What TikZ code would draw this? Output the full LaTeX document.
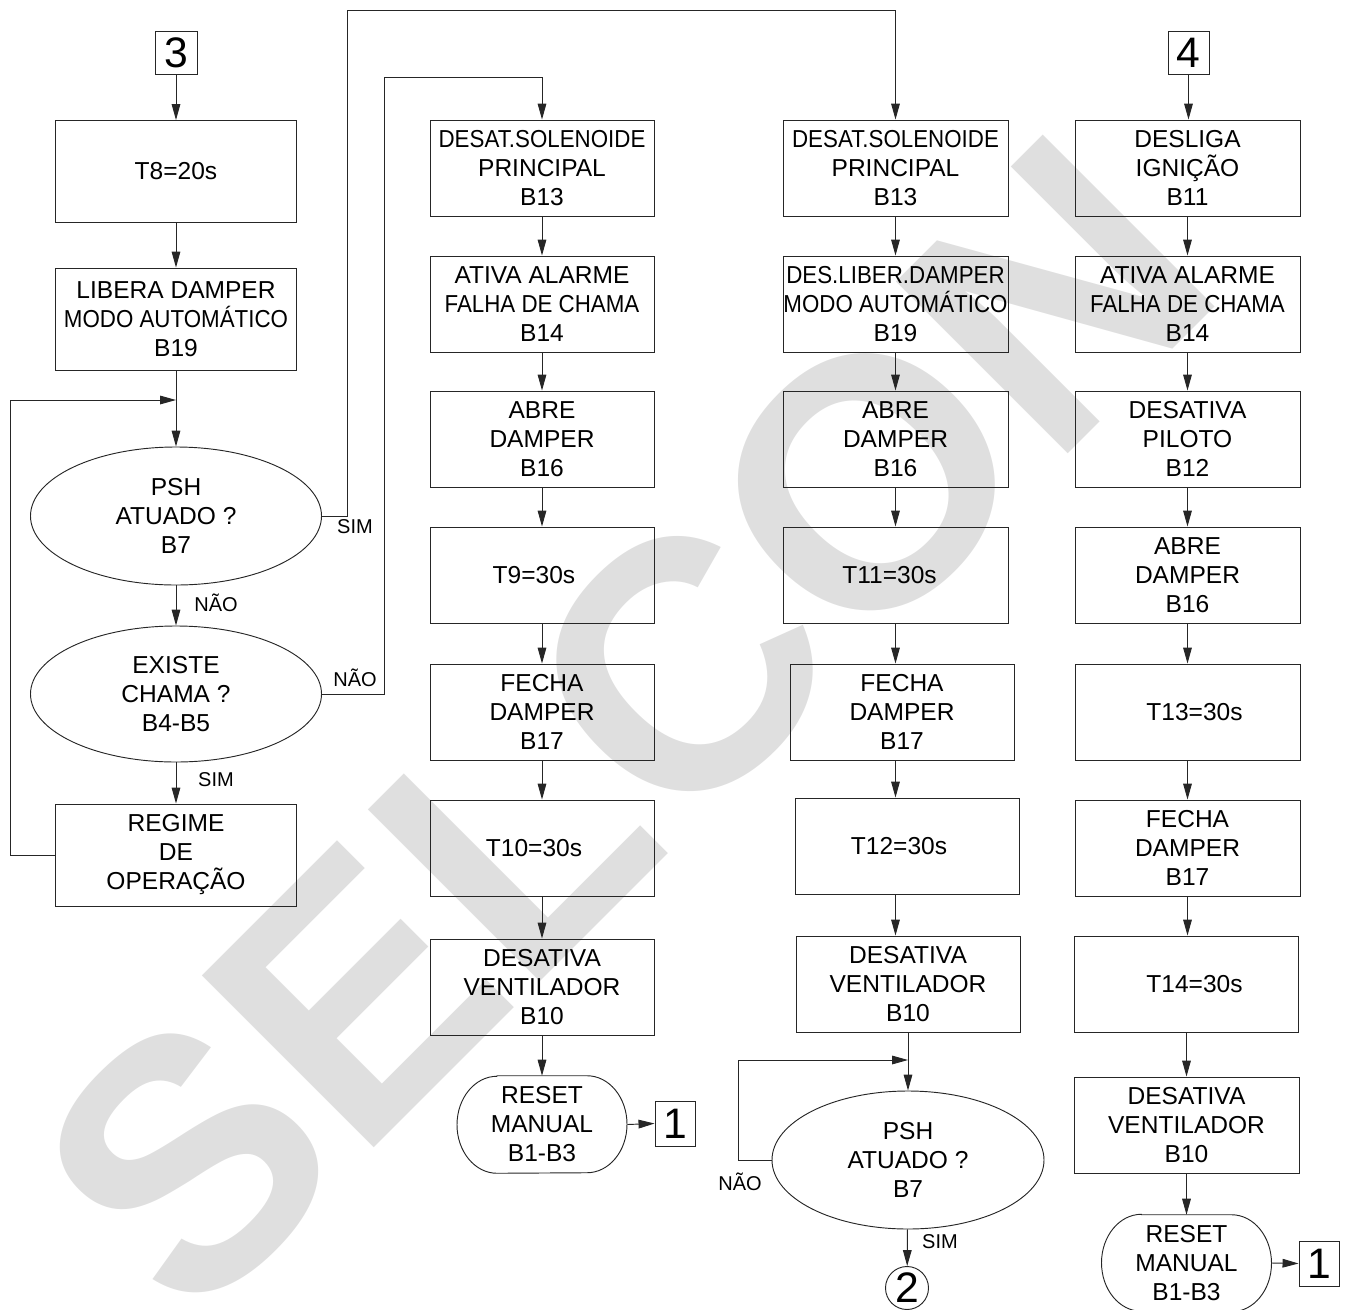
\documentclass[tikz,border=0pt]{standalone}
\usepackage{fontspec}
\usepackage{graphicx}
\setmainfont{Liberation Sans}
\usetikzlibrary{arrows.meta,shapes.geometric,calc}
\newcommand{\sqz}[1]{\scalebox{0.91}[1]{#1}}
\newcommand{\stadium}[1]{\draw[ln] ([xshift=-33.75pt]#1.north) -- ([xshift=33.75pt]#1.north) arc[start angle=90,end angle=-90,x radius=30pt,y radius=36.375pt] -- ([xshift=-33.75pt]#1.south) arc[start angle=270,end angle=90,x radius=30pt,y radius=36.375pt] -- cycle;}
\begin{document}
\begin{tikzpicture}[x=0.75pt,y=-0.75pt,
  every node/.style={font=\fontsize{18.4}{21.75}\selectfont, align=center, inner sep=0pt},
  box/.style={draw=black!85, line width=0.7pt, rectangle, minimum width=168.75pt, minimum height=72pt},
  lbox/.style={box, minimum width=180.75pt, minimum height=76.5pt},
  dec/.style={draw=black!85, line width=0.7pt, ellipse, minimum width=218.25pt, minimum height=103.5pt},
  conn/.style={draw=black!85, line width=0.7pt, rectangle, minimum width=31.5pt, minimum height=32.25pt, font=\fontsize{32}{32}\selectfont},
  term/.style={minimum width=127.5pt, minimum height=72.75pt},
  arr/.style={draw=black!85, line width=0.7pt, -{Triangle[length=12pt,width=6.5pt]}},
  ln/.style={draw=black!85, line width=0.7pt},
  lab/.style={font=\fontsize{15}{15}\selectfont},
  ]
\useasboundingbox (0,0) rectangle (1346,1310);
% watermark
\node[font=\fontsize{265}{265}\selectfont\bfseries, text=gray!25, rotate=45] (wm) at (625,725) {SELCON};

% column 1
\node[conn] (c3) at (176,53) {3};
\node[lbox] (t8) at (176,171.5) {T8=20s};
\node[lbox] (lib) at (176,319) {LIBERA DAMPER\\\sqz{MODO AUTOMÁTICO}\\B19};
\node[dec] (psh1) at (176,516) {PSH\\ATUADO ?\\B7};
\node[dec, minimum height=102pt] (ex) at (176,694) {EXISTE\\CHAMA ?\\B4-B5};
\node[lbox] (reg) at (176,855) {REGIME\\DE\\OPERAÇÃO};
\coordinate (j1) at (176,400);

% column 2
\node[box, minimum width=168pt] (a1) at (542,168) {\sqz{DESAT.SOLENOIDE}\\PRINCIPAL\\B13};
\node[box, minimum width=168pt] (a2) at (542,304) {ATIVA ALARME\\\sqz{FALHA DE CHAMA}\\B14};
\node[box, minimum width=168pt] (a3) at (542,439) {ABRE\\DAMPER\\B16};
\node[box, minimum width=168pt] (a4) at (542,575) {T9=30s\hspace*{12pt}};
\node[box, minimum width=168pt] (a5) at (542,712) {FECHA\\DAMPER\\B17};
\node[box, minimum width=168pt] (a6) at (542,848) {T10=30s\hspace*{12pt}};
\node[box, minimum width=168pt] (a7) at (542,987) {DESATIVA\\VENTILADOR\\B10};
\node[term] (a8) at (542,1124.5) {RESET\\MANUAL\\B1-B3};
\node[conn, minimum width=30pt, minimum height=33.75pt] (a9) at (675,1123.5) {1};

% column 3
\node[box] (b1) at (895.5,168) {\sqz{DESAT.SOLENOIDE}\\PRINCIPAL\\B13};
\node[box] (b2) at (895.5,304) {\sqz{DES.LIBER.DAMPER}\\\sqz{MODO AUTOMÁTICO}\\B19};
\node[box] (b3) at (895.5,439) {ABRE\\DAMPER\\B16};
\node[box] (b4) at (895.5,575) {T11=30s\hspace*{9pt}};
\node[box, minimum width=168pt] (b5) at (902,712) {FECHA\\DAMPER\\B17};
\node[box, minimum width=168pt] (b6) at (907,846) {T12=30s\hspace*{12pt}};
\node[box, minimum width=168pt] (b7) at (908,984) {DESATIVA\\VENTILADOR\\B10};
\node[dec, minimum width=204pt] (b8) at (908,1160) {PSH\\ATUADO ?\\B7};
\node[draw=black!85, line width=0.7pt, circle, minimum size=32.25pt, font=\fontsize{32}{32}\selectfont] (b9) at (907,1288) {2};
\coordinate (j2) at (908,1060);

% column 4
\node[conn, minimum width=30.75pt] (c4) at (1188.5,53) {4};
\node[box] (d1) at (1187.5,168) {DESLIGA\\IGNIÇÃO\\B11};
\node[box] (d2) at (1187.5,304) {ATIVA ALARME\\\sqz{FALHA DE CHAMA}\\B14};
\node[box] (d3) at (1187.5,439) {DESATIVA\\PILOTO\\B12};
\node[box] (d4) at (1187.5,575) {ABRE\\DAMPER\\B16};
\node[box] (d5) at (1187.5,712) {\hspace*{10.5pt}T13=30s};
\node[box] (d6) at (1187.5,848) {FECHA\\DAMPER\\B17};
\node[box, minimum width=168pt] (d7) at (1186.5,984) {\hspace*{12pt}T14=30s};
\node[box] (d8) at (1186.5,1125) {DESATIVA\\VENTILADOR\\B10};
\node[term, minimum height=72pt] (d9) at (1186.5,1263) {RESET\\MANUAL\\B1-B3};
\node[conn, minimum width=30pt, minimum height=33.75pt] (d10) at (1319,1263.5) {1};

\stadium{a8}
\stadium{d9}

% labels
\node[lab] (l1) at (216,603) {NÃO};
\node[lab] (l2) at (216,780) {SIM};
\node[lab] (l3) at (355,527) {SIM};
\node[lab] (l4) at (355,678) {NÃO};
\node[lab] (l5) at (740,1182) {NÃO};
\node[lab] (l6) at (940,1242) {SIM};

% connectors column 1
\draw[arr] (c3) -- (t8);
\draw[arr] (t8) -- (lib);
\draw[arr] (lib) -- (psh1);
\draw[arr] (psh1) -- (ex);
\draw[arr] (ex) -- (reg);
\draw[arr] (reg.west) -- (10,855) |- (j1);
\draw[arr] (psh1.east) -| (347,10) -| (b1.north);
\draw[arr] (ex.east) -| (384,77) -| (a1.north);

% column 2
\draw[arr] (a1) -- (a2);
\draw[arr] (a2) -- (a3);
\draw[arr] (a3) -- (a4);
\draw[arr] (a4) -- (a5);
\draw[arr] (a5) -- (a6);
\draw[arr] (a6) -- (a7);
\draw[arr] (a7.south) -- (a8.north);
\draw[arr] (a8.east) -- (a9.west);

% column 3
\draw[arr] (b1) -- (b2);
\draw[arr] (b2) -- (b3);
\draw[arr] (b3) -- (b4);
\draw[arr] (b4.south) -- (b4.south |- b5.north);
\draw[arr] (b5.south -| b4.south) -- (b4.south |- b6.north);
\draw[arr] (b6.south -| b4.south) -- (b4.south |- b7.north);
\draw[arr] (b7) -- (b8);
\draw[arr] (b8.west) -| (738,1060) -- (j2);
\draw[arr] (b8) -- (b9);

% column 4
\draw[arr] (c4.south) -- (c4.south |- d1.north);
\draw[arr] (d1) -- (d2);
\draw[arr] (d2) -- (d3);
\draw[arr] (d3) -- (d4);
\draw[arr] (d4) -- (d5);
\draw[arr] (d5) -- (d6);
\draw[arr] (d6.south) -- (d6.south |- d7.north);
\draw[arr] (d7) -- (d8);
\draw[arr] (d8) -- (d9.north);
\draw[arr] (d9.east) -- (d10.west);
\end{tikzpicture}
\end{document}
